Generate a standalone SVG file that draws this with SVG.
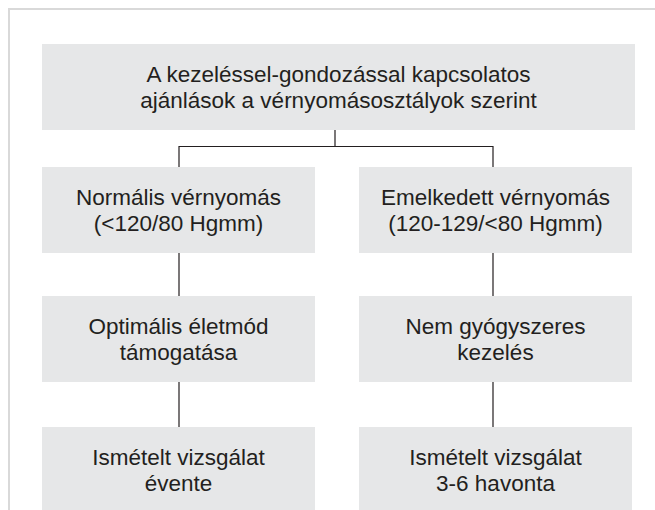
<svg xmlns="http://www.w3.org/2000/svg" width="655" height="510" viewBox="0 0 655 510">
<style>
.box{fill:#e6e7e8}
.t{font-family:"Liberation Sans",Arial,sans-serif;font-size:22.5px;fill:#231f20;text-anchor:middle}
.c{stroke:#231f20;stroke-width:1.2;fill:none}
.frame{stroke:#d9d9d9;stroke-width:2;fill:none}
</style>
<rect width="655" height="510" fill="#ffffff"/>
<path class="frame" d="M9 510 V9 H655"/>
<g id="connectors">
<path class="c" d="M335 130 V146.5 M179 167 V146.5 H493 V167"/>
<path class="c" d="M179 253 V296 M493 253 V296"/>
<path class="c" d="M179 382 V427 M493 382 V427"/>
</g>
<g id="top">
<rect class="box" x="42" y="44" width="593" height="86"/>
<text class="t" x="338.5" y="82">A kezeléssel-gondozással kapcsolatos</text>
<text class="t" x="338.5" y="108">ajánlások a vérnyomásosztályok szerint</text>
</g>
<g id="normal">
<rect class="box" x="42" y="167" width="273" height="86"/>
<text class="t" x="178.5" y="205">Normális vérnyomás</text>
<text class="t" x="178.5" y="231">(&lt;120/80 Hgmm)</text>
</g>
<g id="elevated">
<rect class="box" x="359" y="167" width="273" height="86"/>
<text class="t" x="495.5" y="205">Emelkedett vérnyomás</text>
<text class="t" x="495.5" y="231">(120-129/&lt;80 Hgmm)</text>
</g>
<g id="lifestyle">
<rect class="box" x="42" y="296" width="273" height="86"/>
<text class="t" x="178.5" y="334">Optimális életmód</text>
<text class="t" x="178.5" y="360">támogatása</text>
</g>
<g id="nondrug">
<rect class="box" x="359" y="296" width="273" height="86"/>
<text class="t" x="495.5" y="334">Nem gyógyszeres</text>
<text class="t" x="495.5" y="360">kezelés</text>
</g>
<g id="yearly">
<rect class="box" x="42" y="427" width="273" height="86"/>
<text class="t" x="178.5" y="465">Ismételt vizsgálat</text>
<text class="t" x="178.5" y="491">évente</text>
</g>
<g id="monthly">
<rect class="box" x="359" y="427" width="273" height="86"/>
<text class="t" x="495.5" y="465">Ismételt vizsgálat</text>
<text class="t" x="495.5" y="491">3-6 havonta</text>
</g>
</svg>
